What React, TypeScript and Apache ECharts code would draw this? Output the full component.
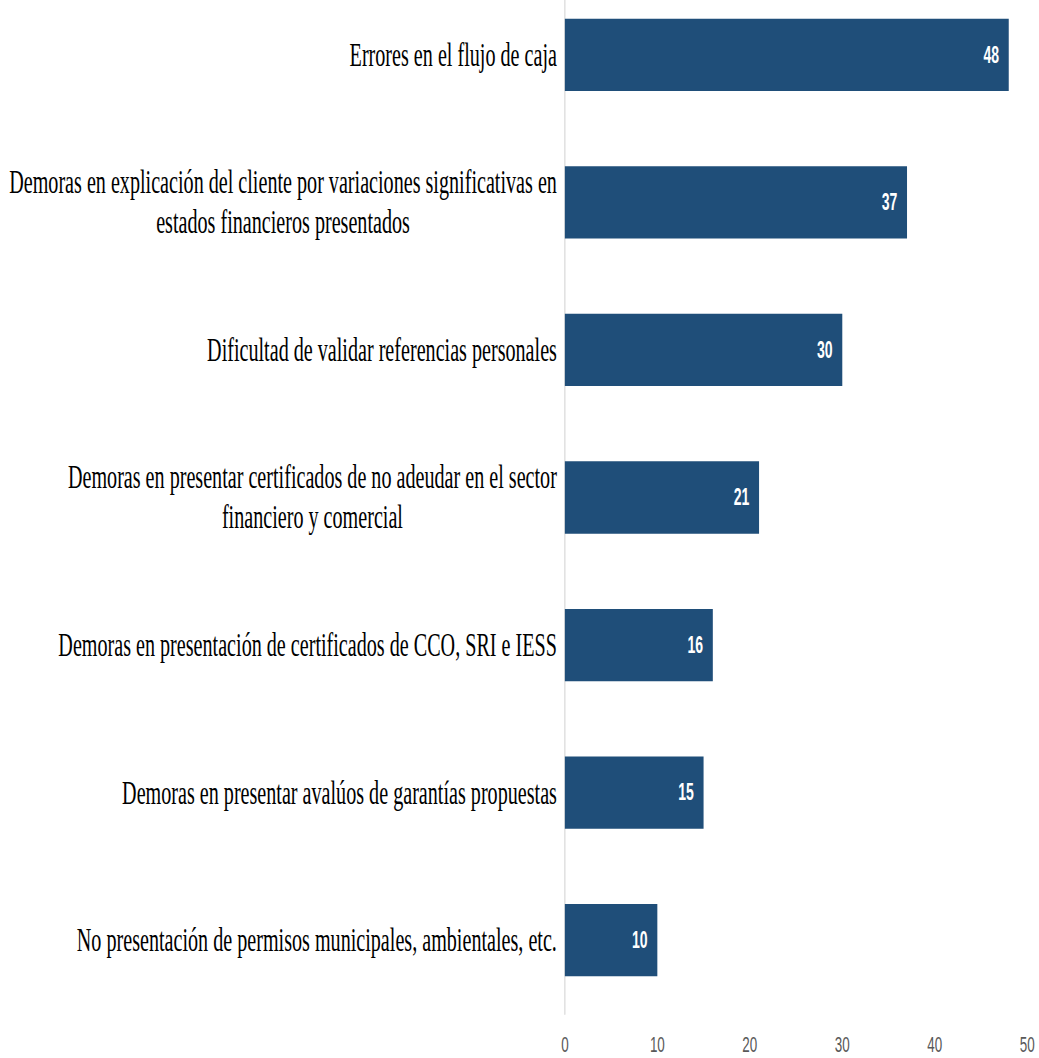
import React, { useEffect, useRef } from "react";
import * as echarts from "echarts";

const categories: string[] = [
  "Errores en el flujo de caja",
  "Demoras en explicación del cliente por variaciones significativas en\nestados financieros presentados",
  "Dificultad de validar referencias personales",
  "Demoras en presentar certificados de no adeudar en el sector\nfinanciero y comercial",
  "Demoras en presentación de certificados de CCO, SRI e IESS",
  "Demoras en presentar avalúos de garantías propuestas",
  "No presentación de permisos municipales, ambientales, etc.",
];
const values: number[] = [48, 37, 30, 21, 16, 15, 10];
const axisMin = 0;
const axisMax = 50;
const axisStep = 10;

const SX = 0.61;
const W = Math.round(1039 / SX);
const H = 1058;
const LEFT = Math.round(565 / SX);
const RIGHT = W - Math.round(1027 / SX);

export default function App() {
  const ref = useRef<HTMLDivElement>(null);
  useEffect(() => {
    if (!ref.current) return;
    const chart = echarts.init(ref.current, undefined, { renderer: "svg" });
    chart.setOption({
      animation: false,
      backgroundColor: "#ffffff",
      grid: {
        left: LEFT,
        right: RIGHT,
        top: -19,
        bottom: 44,
        containLabel: false,
        outerBoundsMode: "none",
      },
      xAxis: {
        type: "value",
        min: axisMin,
        max: axisMax,
        interval: axisStep,
        splitLine: { show: false },
        axisLine: { show: false },
        axisTick: { show: false },
        axisLabel: {
          fontFamily: "Liberation Sans",
          fontSize: 22,
          lineHeight: 22,
          color: "#595959",
          margin: 20,
        },
      },
      yAxis: {
        type: "category",
        inverse: true,
        data: categories,
        axisTick: { show: false },
        axisLine: { show: true, lineStyle: { color: "#d9d9d9", width: 2 } },
        axisLabel: {
          margin: 13,
          color: "#000000",
          fontFamily: "Liberation Serif",
          fontSize: 33,
          lineHeight: 40,
          formatter: (v: string) =>
            v
              .split("\n")
              .map((l) => `{c|${l}}`)
              .join("\n"),
          rich: {
            c: {
              align: "center",
              fontFamily: "Liberation Serif",
              fontSize: 33,
              lineHeight: 40,
              color: "#000000",
            },
          },
        },
      },
      series: [
        {
          type: "bar",
          data: values,
          barCategoryGap: "51%",
          itemStyle: { color: "#1f4e79" },
          label: {
            show: true,
            position: "insideRight",
            distance: 16,
            color: "#ffffff",
            fontFamily: "Liberation Sans",
            fontWeight: "bold",
            fontSize: 23,
          },
        },
      ],
    });
    return () => chart.dispose();
  }, []);
  return (
    <div
      style={{
        position: "fixed",
        left: 0,
        top: 0,
        width: 1039,
        height: H,
        overflow: "hidden",
        background: "#ffffff",
      }}
    >
      <div
        ref={ref}
        style={{
          width: W,
          height: H,
          transform: `scaleX(${SX})`,
          transformOrigin: "0 0",
        }}
      />
    </div>
  );
}
